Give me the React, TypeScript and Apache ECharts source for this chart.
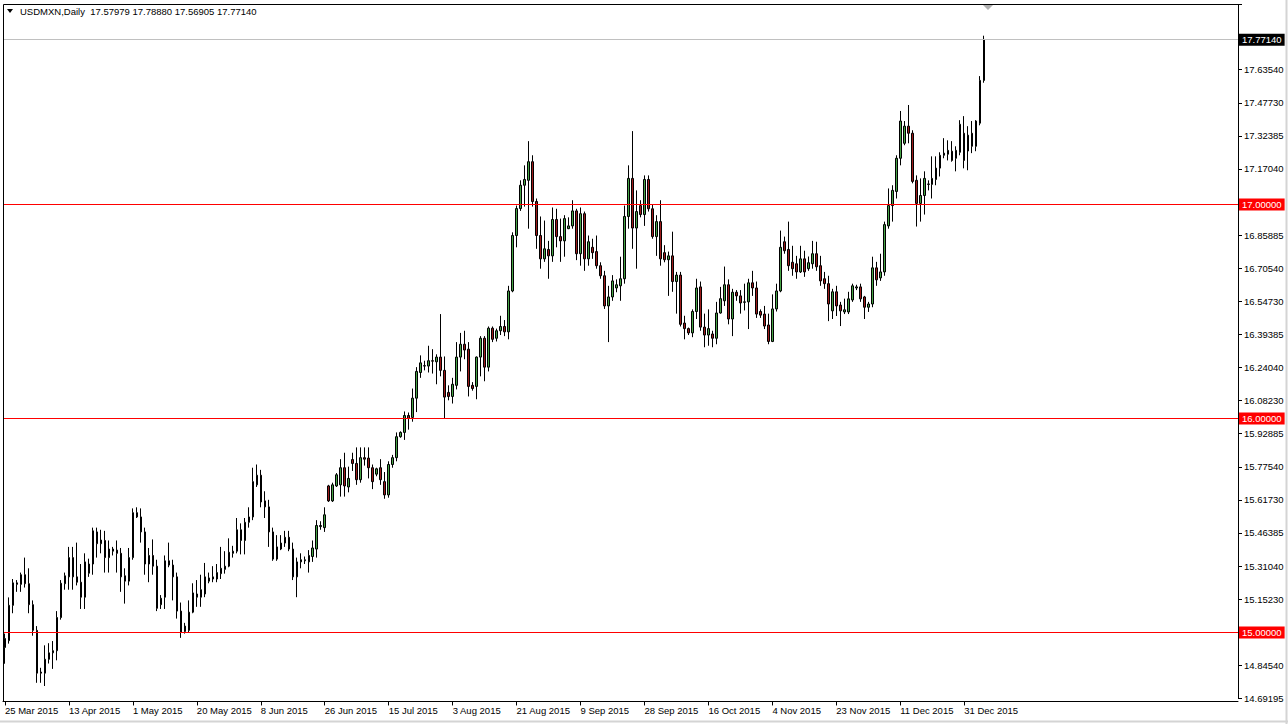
import React, { useEffect, useRef } from "react";
import * as echarts from "echarts";

const symbolTitle = "USDMXN,Daily";
// last bar quote shown in the title: open, high, low, close
const lastQuote = [17.57979, 17.7888, 17.56905, 17.7714];

const dateLabels = [
  "25 Mar 2015", "13 Apr 2015", "1 May 2015", "20 May 2015", "8 Jun 2015",
  "26 Jun 2015", "15 Jul 2015", "3 Aug 2015", "21 Aug 2015", "9 Sep 2015",
  "28 Sep 2015", "16 Oct 2015", "4 Nov 2015", "23 Nov 2015", "11 Dec 2015",
  "31 Dec 2015",
];

const priceTickLabels = [
  "14.69195", "14.84540", "15.15230", "15.31040", "15.46385", "15.61730",
  "15.77540", "15.92885", "16.08230", "16.24040", "16.39385", "16.54730",
  "16.70540", "16.85885", "17.17040", "17.32385", "17.47730", "17.63540",
];

const levels = [15, 16, 17];

// daily bars: [open, high, low, close]
const candles: number[][] = [
  [14.93, 14.995, 14.854, 14.972], [14.962, 15.164, 14.948, 15.127], [15.127, 15.25, 15.09, 15.232],
  [15.232, 15.245, 15.19, 15.225], [15.225, 15.28, 15.19, 15.27], [15.27, 15.35, 15.21, 15.228],
  [15.228, 15.3, 15.09, 15.13], [15.13, 15.15, 14.985, 15.01], [15.01, 15.03, 14.765, 14.81],
  [14.815, 14.835, 14.765, 14.81],
  [14.81, 14.94, 14.75, 14.875], [14.875, 14.95, 14.855, 14.905], [14.905, 14.96, 14.83, 14.915],
  [14.915, 15.1, 14.87, 15.07], [15.07, 15.245, 15.06, 15.23], [15.228, 15.28, 15.2, 15.265],
  [15.26, 15.4, 15.2, 15.35], [15.35, 15.4, 15.2, 15.26], [15.26, 15.42, 15.22, 15.235],
  [15.235, 15.32, 15.11, 15.165],
  [15.165, 15.37, 15.11, 15.33], [15.277, 15.345, 15.26, 15.32], [15.32, 15.49, 15.27, 15.475],
  [15.47, 15.49, 15.35, 15.415], [15.415, 15.48, 15.37, 15.432], [15.43, 15.475, 15.28, 15.35],
  [15.35, 15.43, 15.28, 15.39], [15.38, 15.4, 15.36, 15.39], [15.385, 15.43, 15.28, 15.37],
  [15.37, 15.395, 15.19, 15.26],
  [15.265, 15.3, 15.135, 15.24], [15.24, 15.395, 15.22, 15.35], [15.35, 15.58, 15.34, 15.56],
  [15.56, 15.585, 15.535, 15.54], [15.54, 15.58, 15.42, 15.47], [15.47, 15.49, 15.27, 15.32],
  [15.32, 15.395, 15.235, 15.36], [15.36, 15.435, 15.27, 15.31], [15.31, 15.34, 15.1, 15.113],
  [15.13, 15.175, 15.11, 15.16],
  [15.165, 15.36, 15.11, 15.335], [15.335, 15.42, 15.305, 15.315], [15.315, 15.34, 15.15, 15.26],
  [15.26, 15.28, 15.065, 15.1], [15.1, 15.14, 14.975, 15.0], [15.005, 15.045, 14.995, 15.03],
  [15.01, 15.15, 15.0, 15.095], [15.095, 15.23, 15.09, 15.185], [15.165, 15.245, 15.12, 15.18],
  [15.165, 15.27, 15.12, 15.2],
  [15.18, 15.325, 15.165, 15.26], [15.24, 15.28, 15.23, 15.255], [15.25, 15.31, 15.235, 15.26],
  [15.25, 15.32, 15.235, 15.28], [15.275, 15.4, 15.25, 15.3], [15.295, 15.38, 15.275, 15.31],
  [15.31, 15.44, 15.305, 15.375], [15.37, 15.405, 15.35, 15.38], [15.38, 15.535, 15.37, 15.48],
  [15.43, 15.51, 15.365, 15.48],
  [15.43, 15.535, 15.365, 15.515], [15.515, 15.585, 15.49, 15.54], [15.54, 15.77, 15.525, 15.705],
  [15.69, 15.785, 15.68, 15.735], [15.735, 15.76, 15.585, 15.61], [15.615, 15.66, 15.535, 15.587],
  [15.587, 15.62, 15.4, 15.47], [15.47, 15.49, 15.335, 15.343], [15.343, 15.455, 15.335, 15.4],
  [15.39, 15.455, 15.385, 15.418],
  [15.418, 15.475, 15.4, 15.445], [15.445, 15.475, 15.38, 15.39], [15.39, 15.42, 15.245, 15.26],
  [15.26, 15.35, 15.165, 15.33], [15.33, 15.37, 15.3, 15.34], [15.335, 15.355, 15.32, 15.34],
  [15.33, 15.385, 15.28, 15.36], [15.355, 15.43, 15.33, 15.395], [15.39, 15.525, 15.35, 15.5],
  [15.495, 15.52, 15.48, 15.5],
  [15.49, 15.585, 15.47, 15.55], [15.685, 15.69, 15.61, 15.615], [15.615, 15.7, 15.61, 15.69],
  [15.685, 15.745, 15.68, 15.737], [15.69, 15.81, 15.635, 15.77], [15.77, 15.84, 15.635, 15.685],
  [15.68, 15.775, 15.655, 15.72], [15.808, 15.84, 15.755, 15.79], [15.79, 15.865, 15.69, 15.714],
  [15.714, 15.865, 15.7, 15.817],
  [15.817, 15.865, 15.78, 15.81], [15.815, 15.865, 15.72, 15.77], [15.77, 15.785, 15.67, 15.705],
  [15.74, 15.77, 15.73, 15.765], [15.77, 15.81, 15.69, 15.714], [15.705, 15.75, 15.625, 15.643],
  [15.643, 15.8, 15.63, 15.785], [15.785, 15.83, 15.77, 15.817], [15.817, 15.935, 15.8, 15.915],
  [15.915, 15.94, 15.91, 15.935],
  [15.935, 16.033, 15.9, 16.014], [16.014, 16.028, 15.948, 16.0], [16.005, 16.14, 15.985, 16.095],
  [16.095, 16.24, 16.03, 16.22], [16.215, 16.295, 16.19, 16.26], [16.245, 16.27, 16.225, 16.247],
  [16.245, 16.34, 16.215, 16.27], [16.27, 16.324, 16.21, 16.268], [16.265, 16.3, 16.16, 16.287],
  [16.287, 16.488, 16.197, 16.225],
  [16.225, 16.29, 16.0, 16.1], [16.122, 16.155, 16.085, 16.103], [16.103, 16.19, 16.07, 16.16],
  [16.155, 16.357, 16.136, 16.287], [16.287, 16.4, 16.22, 16.347], [16.347, 16.41, 16.277, 16.32],
  [16.324, 16.357, 16.103, 16.15], [16.155, 16.17, 16.13, 16.14], [16.15, 16.29, 16.09, 16.287],
  [16.287, 16.385, 16.197, 16.375],
  [16.375, 16.385, 16.174, 16.24], [16.24, 16.43, 16.22, 16.422], [16.422, 16.43, 16.357, 16.37],
  [16.375, 16.42, 16.36, 16.41], [16.41, 16.48, 16.39, 16.43], [16.43, 16.46, 16.385, 16.405],
  [16.405, 16.62, 16.37, 16.596], [16.596, 16.87, 16.59, 16.855], [16.855, 16.995, 16.8, 16.981],
  [16.981, 17.113, 16.97, 17.09],
  [17.09, 17.183, 16.99, 17.117], [17.113, 17.296, 16.887, 17.2], [17.2, 17.23, 16.99, 17.014],
  [17.014, 17.028, 16.793, 16.855], [16.855, 16.944, 16.7, 16.746], [16.746, 16.925, 16.732, 16.793],
  [16.79, 16.83, 16.653, 16.76], [16.76, 16.986, 16.732, 16.93], [16.93, 16.98, 16.8, 16.85],
  [16.85, 16.934, 16.732, 16.83],
  [16.83, 16.95, 16.756, 16.934], [16.887, 16.94, 16.885, 16.9], [16.9, 17.02, 16.887, 16.97],
  [16.97, 16.98, 16.74, 16.77], [16.77, 16.986, 16.714, 16.957], [16.957, 16.967, 16.69, 16.746],
  [16.746, 16.855, 16.714, 16.826], [16.8, 16.84, 16.746, 16.775], [16.78, 16.855, 16.7, 16.714],
  [16.714, 16.73, 16.653, 16.667],
  [16.667, 16.69, 16.512, 16.526], [16.526, 16.62, 16.357, 16.568], [16.568, 16.67, 16.55, 16.643],
  [16.61, 16.65, 16.59, 16.625], [16.62, 16.756, 16.55, 16.653], [16.653, 16.995, 16.63, 16.944],
  [16.944, 17.183, 16.887, 17.122], [17.122, 17.343, 16.793, 16.89], [16.89, 17.066, 16.7, 16.967],
  [16.995, 17.02, 16.94, 16.953],
  [16.953, 17.136, 16.9, 17.117], [17.117, 17.136, 16.967, 16.98], [16.98, 17.0, 16.84, 16.85],
  [16.85, 16.95, 16.76, 16.92], [16.92, 17.02, 16.714, 16.746], [16.775, 16.81, 16.73, 16.742],
  [16.742, 16.78, 16.573, 16.76], [16.76, 16.873, 16.592, 16.64], [16.64, 16.685, 16.49, 16.67],
  [16.67, 16.685, 16.43, 16.44],
  [16.446, 16.48, 16.37, 16.42], [16.42, 16.425, 16.39, 16.4], [16.4, 16.51, 16.38, 16.5],
  [16.5, 16.653, 16.465, 16.61], [16.615, 16.64, 16.41, 16.427], [16.427, 16.49, 16.333, 16.39],
  [16.39, 16.51, 16.34, 16.42], [16.395, 16.41, 16.333, 16.375], [16.375, 16.545, 16.347, 16.493],
  [16.493, 16.615, 16.49, 16.56],
  [16.55, 16.71, 16.526, 16.625], [16.625, 16.65, 16.44, 16.465], [16.465, 16.606, 16.385, 16.59],
  [16.59, 16.6, 16.55, 16.573], [16.573, 16.6, 16.49, 16.54], [16.543, 16.63, 16.505, 16.545],
  [16.545, 16.653, 16.418, 16.634], [16.634, 16.69, 16.573, 16.61], [16.61, 16.64, 16.47, 16.488],
  [16.5, 16.51, 16.47, 16.483],
  [16.488, 16.526, 16.418, 16.432], [16.437, 16.49, 16.347, 16.36], [16.36, 16.58, 16.357, 16.512],
  [16.512, 16.63, 16.5, 16.596], [16.596, 16.878, 16.59, 16.8], [16.826, 16.85, 16.77, 16.784],
  [16.79, 16.92, 16.69, 16.714], [16.73, 16.807, 16.667, 16.7], [16.723, 16.76, 16.653, 16.685],
  [16.685, 16.807, 16.68, 16.746],
  [16.746, 16.784, 16.662, 16.685], [16.7, 16.757, 16.69, 16.728], [16.723, 16.83, 16.7, 16.77],
  [16.77, 16.826, 16.69, 16.709], [16.714, 16.76, 16.62, 16.643], [16.653, 16.685, 16.606, 16.63],
  [16.63, 16.667, 16.455, 16.535], [16.503, 16.606, 16.465, 16.592], [16.592, 16.62, 16.479, 16.526],
  [16.53, 16.545, 16.432, 16.503],
  [16.498, 16.56, 16.488, 16.508], [16.498, 16.592, 16.488, 16.559], [16.554, 16.63, 16.545, 16.62],
  [16.61, 16.625, 16.6, 16.615], [16.615, 16.63, 16.545, 16.559], [16.568, 16.573, 16.465, 16.52],
  [16.52, 16.545, 16.498, 16.535], [16.535, 16.756, 16.52, 16.704], [16.704, 16.732, 16.62, 16.648],
  [16.657, 16.77, 16.643, 16.685],
  [16.685, 16.92, 16.667, 16.906], [16.9, 17.075, 16.887, 16.995], [16.995, 17.09, 16.92, 17.066],
  [17.061, 17.23, 17.028, 17.216], [17.216, 17.437, 17.183, 17.39], [17.286, 17.39, 17.277, 17.366],
  [17.366, 17.465, 17.286, 17.333], [17.333, 17.347, 17.099, 17.108], [17.113, 17.136, 16.897, 17.005],
  [17.005, 17.122, 16.92, 17.042],
  [17.042, 17.155, 16.953, 17.122], [17.094, 17.113, 17.066, 17.096], [17.094, 17.225, 17.028, 17.122],
  [17.117, 17.225, 17.09, 17.17], [17.17, 17.244, 17.131, 17.23], [17.23, 17.31, 17.216, 17.24],
  [17.235, 17.3, 17.206, 17.253], [17.249, 17.296, 17.2, 17.206], [17.216, 17.272, 17.155, 17.253],
  [17.244, 17.394, 17.23, 17.375],
  [17.333, 17.413, 17.169, 17.206], [17.25, 17.366, 17.16, 17.324], [17.333, 17.39, 17.24, 17.272],
  [17.272, 17.394, 17.249, 17.39], [17.38, 17.6, 17.37, 17.58], [17.57979, 17.7888, 17.56905, 17.7714],
];

const VISIBLE_BARS = 309;
const LABEL_EVERY = 16;

const FONT = "'Liberation Sans', Arial, sans-serif";
const BULL = "#45a345";
const BEAR = "#9c1a1a";
const LEVEL_RED = "#ff0000";

export default function App() {
  const ref = useRef<HTMLDivElement>(null);

  useEffect(() => {
    if (!ref.current) return;
    const chart = echarts.init(ref.current, undefined, { renderer: "svg" });

    const categories = Array.from({ length: VISIBLE_BARS }, (_, i) => String(i));
    const seriesData = candles.map(([o, h, l, c]) => [o, c, l, h]);
    const showAt = (index: number) =>
      index % LABEL_EVERY === 0 && index / LABEL_EVERY < dateLabels.length;

    const boxLabel = (text: string, bg: string) => ({
      show: true,
      position: "end",
      distance: 1,
      formatter: () => text,
      color: "#ffffff",
      backgroundColor: bg,
      padding: [1, 3, 1, 3],
      fontSize: 9.5,
      fontFamily: FONT,
    });

    const levelLines = levels.map((v) => ({
      yAxis: v,
      lineStyle: { color: LEVEL_RED, width: 1, type: "solid", opacity: 1 },
      label: boxLabel(v.toFixed(5), LEVEL_RED),
    }));
    const priceLine = {
      yAxis: lastQuote[3],
      lineStyle: { color: "#c0c0c0", width: 1, type: "solid", opacity: 1 },
      label: boxLabel(lastQuote[3].toFixed(5), "#000000"),
    };

    chart.setOption({
      animation: false,
      backgroundColor: "#ffffff",
      textStyle: { fontFamily: FONT },
      // 214 px per unit, so the 15/16/17 levels fall on pixel centres
      grid: { left: 3, right: 50, top: 4.41, bottom: 25.5345, show: false },
      xAxis: {
        type: "category",
        data: categories,
        boundaryGap: true,
        offset: 3,
        axisLine: { show: true, onZero: false, lineStyle: { color: "#000", width: 1 } },
        axisTick: {
          show: true,
          alignWithLabel: true,
          interval: (index: number) => showAt(index),
          length: 4,
          lineStyle: { color: "#000" },
        },
        axisLabel: {
          show: true,
          interval: (index: number) => showAt(index),
          formatter: (_v: string, index: number) => dateLabels[index / LABEL_EVERY] ?? "",
          align: "left",
          margin: 4,
          color: "#000",
          fontSize: 9.5,
          fontFamily: FONT,
        },
        splitLine: { show: false },
      },
      yAxis: {
        type: "value",
        position: "right",
        min: 14.69175,
        max: 17.935,
        interval: 0.15465,
        scale: true,
        axisLine: { show: true, onZero: false, lineStyle: { color: "#000", width: 1 } },
        axisTick: { show: true, inside: false, length: 4, lineStyle: { color: "#000" } },
        axisLabel: {
          show: true,
          margin: 6,
          color: "#000",
          fontSize: 9.5,
          fontFamily: FONT,
          formatter: (v: number) => {
            const hit = priceTickLabels.find((t) => Math.abs(parseFloat(t) - v) < 0.012);
            return hit ?? "";
          },
        },
        splitLine: { show: false },
      },
      series: [
        {
          type: "line",
          name: "levels",
          data: [],
          silent: true,
          z: 1,
          markLine: {
            silent: true,
            symbol: ["none", "none"],
            animation: false,
            lineStyle: { color: LEVEL_RED, type: "solid", width: 1 },
            data: [...levelLines, priceLine],
          },
        },
        {
          type: "candlestick",
          data: seriesData,
          barWidth: 2,
          z: 3,
          itemStyle: {
            color: BULL,
            color0: BEAR,
            borderColor: "#000000",
            borderColor0: "#000000",
            borderWidth: 1,
          },
        },
      ],
      graphic: [
        {
          type: "polyline",
          silent: true,
          shape: { points: [[1238, 4.5], [3.5, 4.5], [3.5, 701]] },
          style: { fill: "none", stroke: "#000", lineWidth: 1 },
          z: 100,
        },
        {
          type: "line",
          silent: true,
          shape: { x1: 0, y1: 721.5, x2: 1288, y2: 721.5 },
          style: { stroke: "#d4d4d4", lineWidth: 2 },
        },
        {
          type: "line",
          silent: true,
          shape: { x1: 1286.5, y1: 0, x2: 1286.5, y2: 724 },
          style: { stroke: "#d4d4d4", lineWidth: 2 },
        },
        {
          type: "polygon",
          silent: true,
          shape: { points: [[7, 9], [13, 9], [10, 13]] },
          style: { fill: "#000" },
        },
        {
          type: "polygon",
          silent: true,
          shape: { points: [[983, 5], [993, 5], [988, 10]] },
          style: { fill: "#b0b0b0" },
        },
        {
          type: "text",
          silent: true,
          left: 20,
          top: 6,
          style: {
            text: `${symbolTitle}  ${lastQuote.map((v) => v.toFixed(5)).join(" ")}`,
            fill: "#000",
            fontSize: 9.5,
            fontFamily: FONT,
          },
        },
      ],
    });

    return () => chart.dispose();
  }, []);

  return (
    <div
      ref={ref}
      style={{ position: "fixed", left: 0, top: 0, width: 1288, height: 724, background: "#fff" }}
    />
  );
}
